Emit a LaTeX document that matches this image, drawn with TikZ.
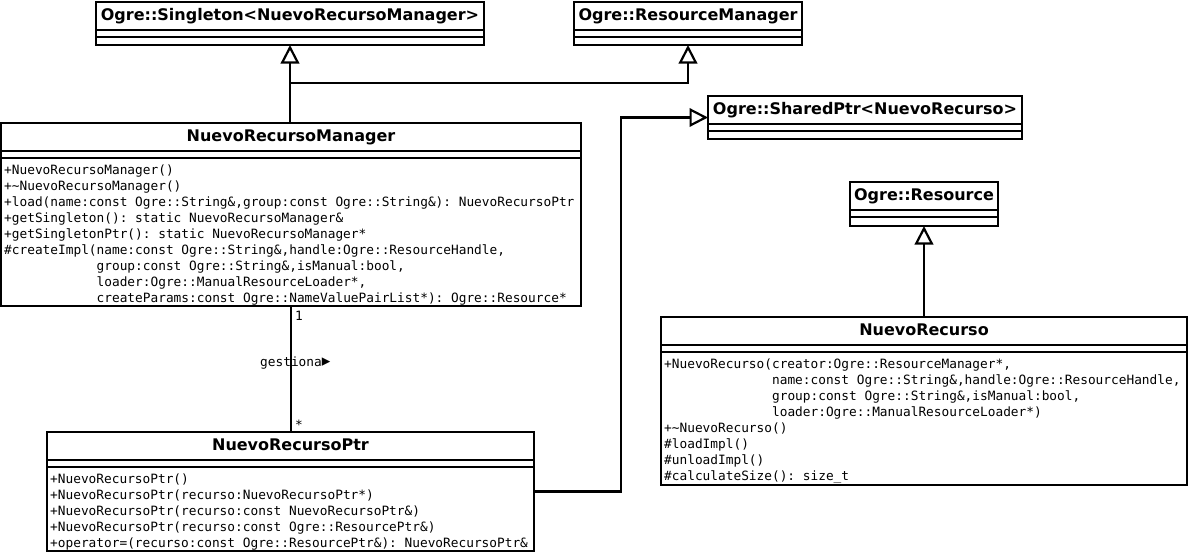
\documentclass[tikz,border=0pt]{standalone}
\usepackage{fontspec}
\setmainfont{DejaVu Sans}
\setmonofont{DejaVu Sans Mono}
\newfontfamily\symfont{DejaVu Sans}
\usetikzlibrary{arrows.meta}

% one UML class: name, x, y (top left), width, height, title
\newcommand\umlclass[6]{%
  \node[classbox, minimum width=#4pt, minimum height=#5pt] (#1) at (#2,#3) {};
  \draw[sepline] ([yshift=-28pt]#1.north west) -- ([yshift=-28pt]#1.north east);
  \draw[sepline] ([yshift=-35pt]#1.north west) -- ([yshift=-35pt]#1.north east);
  \node[classtitle] (#1-title) at ([yshift=-14pt]#1.north) {#6};
}

\begin{document}
\begin{tikzpicture}[x=1pt,y=-1pt,
  classbox/.style={draw, line width=2.2pt, fill=white, inner sep=0pt, outer sep=0pt, anchor=north west},
  sepline/.style={line width=2.2pt},
  classtitle/.style={font=\fontsize{16}{19}\selectfont\bfseries, inner sep=0pt, text height=11.5pt, text depth=3.5pt},
  members/.style={font=\fontsize{12.8}{16}\selectfont\ttfamily, align=left, inner sep=0pt, anchor=north west},
  lbl/.style={font=\fontsize{12.8}{16}\selectfont\ttfamily, inner sep=0pt},
  inherit/.style={line width=2.2pt, -{Triangle[open, length=18.5pt, width=18.5pt]}},
  assoc/.style={line width=2.2pt}
]
\useasboundingbox (0,0) rectangle (1189,555);

% classes
\umlclass{singleton}{96}{2}{388}{43}{Ogre::Singleton<NuevoRecursoManager>}
\umlclass{resmgr}{574}{2}{228}{43}{Ogre::ResourceManager}
\umlclass{sharedptr}{708}{96}{314}{43}{Ogre::SharedPtr<NuevoRecurso>}
\umlclass{resource}{850}{182}{148}{44}{Ogre::Resource}
\umlclass{manager}{1}{123}{580}{183}{NuevoRecursoManager}
\umlclass{ptr}{47}{432}{487}{119}{NuevoRecursoPtr}
\umlclass{recurso}{661}{317}{526}{168}{NuevoRecurso}

% operations
\node[members] (manager-ops) at ([xshift=3pt,yshift=-41.5pt]manager.north west) {%
+NuevoRecursoManager()\\
+\textasciitilde NuevoRecursoManager()\\
+load(name:const Ogre::String\&,group:const Ogre::String\&): NuevoRecursoPtr\\
+getSingleton(): static NuevoRecursoManager\&\\
+getSingletonPtr(): static NuevoRecursoManager*\\
\#createImpl(name:const Ogre::String\&,handle:Ogre::ResourceHandle,\\
\phantom{\#createImpl(}group:const Ogre::String\&,isManual:bool,\\
\phantom{\#createImpl(}loader:Ogre::ManualResourceLoader*,\\
\phantom{\#createImpl(}createParams:const Ogre::NameValuePairList*): Ogre::Resource*};

\node[members] (ptr-ops) at ([xshift=3pt,yshift=-41.5pt]ptr.north west) {%
+NuevoRecursoPtr()\\
+NuevoRecursoPtr(recurso:NuevoRecursoPtr*)\\
+NuevoRecursoPtr(recurso:const NuevoRecursoPtr\&)\\
+NuevoRecursoPtr(recurso:const Ogre::ResourcePtr\&)\\
+operator=(recurso:const Ogre::ResourcePtr\&): NuevoRecursoPtr\&};

\node[members] (recurso-ops) at ([xshift=3pt,yshift=-41.5pt]recurso.north west) {%
+NuevoRecurso(creator:Ogre::ResourceManager*,\\
\phantom{+NuevoRecurso(}name:const Ogre::String\&,handle:Ogre::ResourceHandle,\\
\phantom{+NuevoRecurso(}group:const Ogre::String\&,isManual:bool,\\
\phantom{+NuevoRecurso(}loader:Ogre::ManualResourceLoader*)\\
+\textasciitilde NuevoRecurso()\\
\#loadImpl()\\
\#unloadImpl()\\
\#calculateSize(): size\_t};

% generalisations
\coordinate (join) at (singleton.south |- 0,83);
\draw[inherit] (singleton.south |- manager.north) -- (singleton.south);
\draw[inherit] (join) -| (resmgr.south);
\coordinate (elbow) at (621,0);
\draw[inherit] (ptr.east) -- (ptr.east -| elbow) |- (sharedptr.west);
\draw[inherit] (recurso.north) -- (resource.south);

% association
\draw[assoc] (manager.south) -- (manager.south |- ptr.north);
\node[lbl, anchor=base west] (mult-one) at ([xshift=4pt,yshift=-14.5pt]manager.south) {1};
\node[lbl, anchor=base west] (mult-many) at ([xshift=4pt,yshift=2.5pt]manager.south |- ptr.north) {*};
\node[lbl, anchor=base west] (assoc-name) at (260,366) {gestiona{\symfont\fontsize{17}{18}\selectfont\raisebox{-0.5pt}{▸}}};
\end{tikzpicture}
\end{document}
